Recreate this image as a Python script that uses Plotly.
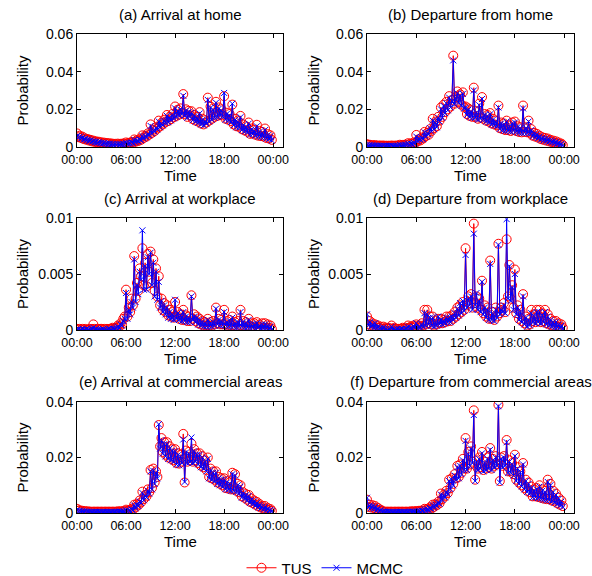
import plotly.graph_objects as go

# time of day in hours, 10-minute steps
steps_per_hour = 6
times = [i / steps_per_hour for i in range(24 * steps_per_hour)]

tick_vals = [0, 6, 12, 18, 24]
tick_text = ["00:00", "06:00", "12:00", "18:00", "00:00"]

titles = ["(a) Arrival at home", "(b) Departure from home",
          "(c) Arrival at workplace", "(d) Departure from workplace",
          "(e) Arrival at commercial areas", "(f) Departure from commercial areas"]

# (a) Arrival at home  (one row = one hour, 10-min values)
tus_a = [
    0.0072, 0.0052, 0.0060, 0.0048, 0.0055, 0.0042,
    0.0046, 0.0038, 0.0042, 0.0034, 0.0038, 0.0030,
    0.0034, 0.0027, 0.0030, 0.0024, 0.0028, 0.0022,
    0.0025, 0.0020, 0.0023, 0.0018, 0.0021, 0.0017,
    0.0020, 0.0015, 0.0018, 0.0014, 0.0017, 0.0013,
    0.0018, 0.0014, 0.0017, 0.0015, 0.0019, 0.0016,
    0.0024, 0.0018, 0.0022, 0.0020, 0.0026, 0.0023,
    0.0040, 0.0028, 0.0036, 0.0032, 0.0042, 0.0038,
    0.0062, 0.0048, 0.0060, 0.0055, 0.0072, 0.0066,
    0.0120, 0.0075, 0.0092, 0.0085, 0.0105, 0.0098,
    0.0140, 0.0110, 0.0128, 0.0120, 0.0145, 0.0132,
    0.0170, 0.0138, 0.0160, 0.0148, 0.0175, 0.0158,
    0.0215, 0.0165, 0.0198, 0.0172, 0.0205, 0.0180,
    0.0281, 0.0175, 0.0200, 0.0160, 0.0192, 0.0168,
    0.0190, 0.0148, 0.0170, 0.0140, 0.0160, 0.0135,
    0.0185, 0.0125, 0.0150, 0.0120, 0.0142, 0.0130,
    0.0262, 0.0140, 0.0215, 0.0150, 0.0205, 0.0160,
    0.0240, 0.0165, 0.0210, 0.0172, 0.0200, 0.0168,
    0.0270, 0.0150, 0.0182, 0.0145, 0.0175, 0.0138,
    0.0225, 0.0120, 0.0150, 0.0110, 0.0140, 0.0108,
    0.0165, 0.0095, 0.0120, 0.0088, 0.0110, 0.0082,
    0.0130, 0.0070, 0.0098, 0.0072, 0.0090, 0.0065,
    0.0118, 0.0060, 0.0085, 0.0058, 0.0080, 0.0055,
    0.0098, 0.0048, 0.0068, 0.0045, 0.0062, 0.0038]
mcmc_a = [
    0.0058, 0.0050, 0.0055, 0.0046, 0.0050, 0.0040,
    0.0043, 0.0036, 0.0040, 0.0032, 0.0035, 0.0028,
    0.0031, 0.0025, 0.0028, 0.0022, 0.0026, 0.0020,
    0.0023, 0.0018, 0.0021, 0.0016, 0.0019, 0.0015,
    0.0018, 0.0013, 0.0016, 0.0012, 0.0015, 0.0011,
    0.0016, 0.0012, 0.0015, 0.0013, 0.0017, 0.0014,
    0.0022, 0.0016, 0.0020, 0.0019, 0.0024, 0.0021,
    0.0037, 0.0026, 0.0034, 0.0030, 0.0040, 0.0036,
    0.0058, 0.0045, 0.0057, 0.0052, 0.0068, 0.0062,
    0.0112, 0.0072, 0.0088, 0.0082, 0.0100, 0.0094,
    0.0135, 0.0105, 0.0124, 0.0116, 0.0140, 0.0128,
    0.0165, 0.0132, 0.0155, 0.0142, 0.0170, 0.0152,
    0.0205, 0.0160, 0.0190, 0.0168, 0.0198, 0.0174,
    0.0272, 0.0168, 0.0193, 0.0155, 0.0186, 0.0162,
    0.0182, 0.0142, 0.0163, 0.0135, 0.0154, 0.0128,
    0.0178, 0.0120, 0.0144, 0.0115, 0.0136, 0.0125,
    0.0250, 0.0135, 0.0208, 0.0145, 0.0198, 0.0155,
    0.0235, 0.0160, 0.0203, 0.0166, 0.0194, 0.0162,
    0.0287, 0.0145, 0.0176, 0.0140, 0.0168, 0.0132,
    0.0230, 0.0115, 0.0144, 0.0105, 0.0134, 0.0103,
    0.0158, 0.0090, 0.0115, 0.0084, 0.0105, 0.0078,
    0.0124, 0.0066, 0.0093, 0.0068, 0.0085, 0.0061,
    0.0110, 0.0056, 0.0080, 0.0054, 0.0075, 0.0051,
    0.0090, 0.0045, 0.0063, 0.0042, 0.0057, 0.0035]

# (b) Departure from home
tus_b = [
    0.0015, 0.0010, 0.0012, 0.0008, 0.0010, 0.0007,
    0.0010, 0.0006, 0.0008, 0.0006, 0.0008, 0.0005,
    0.0008, 0.0005, 0.0007, 0.0005, 0.0007, 0.0005,
    0.0008, 0.0006, 0.0007, 0.0006, 0.0008, 0.0006,
    0.0012, 0.0008, 0.0011, 0.0009, 0.0013, 0.0010,
    0.0020, 0.0014, 0.0019, 0.0016, 0.0024, 0.0020,
    0.0064, 0.0030, 0.0042, 0.0035, 0.0050, 0.0045,
    0.0080, 0.0058, 0.0075, 0.0065, 0.0095, 0.0085,
    0.0150, 0.0100, 0.0135, 0.0110, 0.0160, 0.0140,
    0.0210, 0.0160, 0.0225, 0.0185, 0.0240, 0.0200,
    0.0270, 0.0215, 0.0250, 0.0485, 0.0230, 0.0265,
    0.0295, 0.0240, 0.0280, 0.0225, 0.0290, 0.0210,
    0.0215, 0.0175, 0.0205, 0.0165, 0.0195, 0.0160,
    0.0315, 0.0160, 0.0190, 0.0150, 0.0230, 0.0155,
    0.0265, 0.0150, 0.0175, 0.0140, 0.0170, 0.0135,
    0.0180, 0.0125, 0.0150, 0.0120, 0.0140, 0.0115,
    0.0220, 0.0100, 0.0130, 0.0095, 0.0125, 0.0090,
    0.0140, 0.0090, 0.0115, 0.0085, 0.0130, 0.0090,
    0.0135, 0.0085, 0.0110, 0.0080, 0.0105, 0.0078,
    0.0220, 0.0080, 0.0105, 0.0078, 0.0140, 0.0075,
    0.0095, 0.0060, 0.0075, 0.0055, 0.0070, 0.0050,
    0.0060, 0.0042, 0.0052, 0.0038, 0.0048, 0.0034,
    0.0045, 0.0030, 0.0038, 0.0026, 0.0034, 0.0022,
    0.0030, 0.0018, 0.0024, 0.0014, 0.0018, 0.0010]
mcmc_b = [
    0.0012, 0.0008, 0.0010, 0.0007, 0.0009, 0.0006,
    0.0008, 0.0005, 0.0007, 0.0005, 0.0007, 0.0004,
    0.0007, 0.0004, 0.0006, 0.0004, 0.0006, 0.0004,
    0.0007, 0.0005, 0.0006, 0.0005, 0.0007, 0.0005,
    0.0011, 0.0007, 0.0010, 0.0008, 0.0012, 0.0009,
    0.0018, 0.0013, 0.0017, 0.0015, 0.0022, 0.0019,
    0.0055, 0.0032, 0.0045, 0.0038, 0.0048, 0.0042,
    0.0078, 0.0055, 0.0072, 0.0068, 0.0100, 0.0082,
    0.0140, 0.0095, 0.0130, 0.0105, 0.0155, 0.0135,
    0.0200, 0.0155, 0.0218, 0.0180, 0.0232, 0.0195,
    0.0262, 0.0210, 0.0245, 0.0460, 0.0225, 0.0258,
    0.0285, 0.0235, 0.0272, 0.0218, 0.0282, 0.0205,
    0.0208, 0.0170, 0.0198, 0.0160, 0.0188, 0.0155,
    0.0300, 0.0155, 0.0184, 0.0145, 0.0222, 0.0150,
    0.0255, 0.0145, 0.0170, 0.0135, 0.0165, 0.0130,
    0.0174, 0.0120, 0.0145, 0.0115, 0.0135, 0.0110,
    0.0210, 0.0096, 0.0125, 0.0090, 0.0120, 0.0086,
    0.0135, 0.0086, 0.0110, 0.0082, 0.0125, 0.0086,
    0.0130, 0.0082, 0.0106, 0.0076, 0.0100, 0.0074,
    0.0205, 0.0076, 0.0100, 0.0074, 0.0135, 0.0071,
    0.0090, 0.0057, 0.0071, 0.0052, 0.0066, 0.0047,
    0.0056, 0.0040, 0.0049, 0.0035, 0.0045, 0.0031,
    0.0042, 0.0028, 0.0035, 0.0024, 0.0031, 0.0020,
    0.0027, 0.0016, 0.0021, 0.0012, 0.0016, 0.0008]

# (c) Arrival at workplace
tus_c = [
    0.0001, 0.0000, 0.0001, 0.0000, 0.0001, 0.0000,
    0.0001, 0.0000, 0.0000, 0.0001, 0.0000, 0.0001,
    0.0005, 0.0001, 0.0000, 0.0001, 0.0000, 0.0001,
    0.0001, 0.0000, 0.0001, 0.0000, 0.0001, 0.0000,
    0.0001, 0.0001, 0.0002, 0.0001, 0.0002, 0.0002,
    0.0004, 0.0003, 0.0006, 0.0005, 0.0010, 0.0012,
    0.0036, 0.0012, 0.0020, 0.0016, 0.0028, 0.0022,
    0.0066, 0.0028, 0.0042, 0.0035, 0.0055, 0.0048,
    0.0073, 0.0040, 0.0060, 0.0039, 0.0068, 0.0052,
    0.0070, 0.0042, 0.0063, 0.0035, 0.0055, 0.0030,
    0.0048, 0.0022, 0.0028, 0.0018, 0.0024, 0.0016,
    0.0022, 0.0013, 0.0018, 0.0012, 0.0016, 0.0011,
    0.0025, 0.0012, 0.0016, 0.0010, 0.0014, 0.0009,
    0.0018, 0.0009, 0.0013, 0.0008, 0.0012, 0.0008,
    0.0031, 0.0010, 0.0014, 0.0008, 0.0012, 0.0006,
    0.0010, 0.0005, 0.0008, 0.0004, 0.0007, 0.0004,
    0.0010, 0.0004, 0.0007, 0.0004, 0.0008, 0.0005,
    0.0020, 0.0006, 0.0010, 0.0005, 0.0009, 0.0005,
    0.0018, 0.0005, 0.0008, 0.0004, 0.0009, 0.0004,
    0.0012, 0.0004, 0.0007, 0.0003, 0.0008, 0.0004,
    0.0018, 0.0004, 0.0008, 0.0003, 0.0007, 0.0003,
    0.0010, 0.0003, 0.0006, 0.0003, 0.0006, 0.0002,
    0.0007, 0.0003, 0.0005, 0.0002, 0.0006, 0.0002,
    0.0006, 0.0002, 0.0005, 0.0002, 0.0004, 0.0001]
mcmc_c = [
    0.0000, 0.0001, 0.0000, 0.0000, 0.0001, 0.0000,
    0.0000, 0.0001, 0.0000, 0.0000, 0.0000, 0.0001,
    0.0002, 0.0000, 0.0001, 0.0000, 0.0000, 0.0000,
    0.0000, 0.0001, 0.0000, 0.0000, 0.0000, 0.0001,
    0.0001, 0.0000, 0.0001, 0.0001, 0.0001, 0.0002,
    0.0003, 0.0002, 0.0005, 0.0004, 0.0008, 0.0010,
    0.0033, 0.0010, 0.0018, 0.0014, 0.0025, 0.0020,
    0.0063, 0.0025, 0.0040, 0.0032, 0.0052, 0.0045,
    0.0089, 0.0036, 0.0057, 0.0036, 0.0065, 0.0050,
    0.0069, 0.0040, 0.0060, 0.0030, 0.0052, 0.0027,
    0.0043, 0.0020, 0.0026, 0.0016, 0.0022, 0.0014,
    0.0020, 0.0011, 0.0016, 0.0010, 0.0014, 0.0009,
    0.0027, 0.0010, 0.0015, 0.0009, 0.0013, 0.0008,
    0.0016, 0.0008, 0.0012, 0.0007, 0.0011, 0.0007,
    0.0030, 0.0009, 0.0012, 0.0007, 0.0011, 0.0005,
    0.0009, 0.0004, 0.0007, 0.0003, 0.0006, 0.0003,
    0.0009, 0.0003, 0.0006, 0.0003, 0.0007, 0.0004,
    0.0019, 0.0005, 0.0009, 0.0004, 0.0008, 0.0004,
    0.0016, 0.0004, 0.0007, 0.0003, 0.0008, 0.0003,
    0.0011, 0.0003, 0.0006, 0.0002, 0.0007, 0.0003,
    0.0016, 0.0003, 0.0007, 0.0002, 0.0006, 0.0002,
    0.0009, 0.0002, 0.0005, 0.0002, 0.0005, 0.0001,
    0.0006, 0.0002, 0.0004, 0.0001, 0.0005, 0.0001,
    0.0005, 0.0001, 0.0004, 0.0001, 0.0003, 0.0000]

# (d) Departure from workplace
tus_d = [
    0.0012, 0.0005, 0.0008, 0.0004, 0.0006, 0.0003,
    0.0005, 0.0002, 0.0004, 0.0002, 0.0003, 0.0001,
    0.0003, 0.0001, 0.0002, 0.0001, 0.0002, 0.0001,
    0.0004, 0.0001, 0.0002, 0.0001, 0.0001, 0.0001,
    0.0001, 0.0001, 0.0002, 0.0001, 0.0002, 0.0001,
    0.0004, 0.0002, 0.0003, 0.0002, 0.0004, 0.0003,
    0.0005, 0.0002, 0.0004, 0.0003, 0.0006, 0.0004,
    0.0018, 0.0005, 0.0018, 0.0006, 0.0012, 0.0005,
    0.0012, 0.0004, 0.0008, 0.0005, 0.0010, 0.0006,
    0.0010, 0.0006, 0.0009, 0.0007, 0.0012, 0.0008,
    0.0012, 0.0008, 0.0013, 0.0010, 0.0016, 0.0012,
    0.0020, 0.0014, 0.0022, 0.0016, 0.0025, 0.0018,
    0.0073, 0.0022, 0.0030, 0.0024, 0.0032, 0.0020,
    0.0095, 0.0024, 0.0030, 0.0020, 0.0028, 0.0018,
    0.0044, 0.0015, 0.0022, 0.0012, 0.0020, 0.0010,
    0.0062, 0.0010, 0.0016, 0.0009, 0.0020, 0.0012,
    0.0077, 0.0015, 0.0020, 0.0018, 0.0024, 0.0016,
    0.0081, 0.0030, 0.0058, 0.0028, 0.0040, 0.0020,
    0.0054, 0.0015, 0.0022, 0.0010, 0.0018, 0.0008,
    0.0032, 0.0006, 0.0012, 0.0004, 0.0010, 0.0005,
    0.0018, 0.0008, 0.0014, 0.0007, 0.0018, 0.0008,
    0.0018, 0.0007, 0.0015, 0.0008, 0.0018, 0.0006,
    0.0014, 0.0005, 0.0010, 0.0004, 0.0008, 0.0003,
    0.0008, 0.0003, 0.0006, 0.0003, 0.0005, 0.0002]
mcmc_d = [
    0.0014, 0.0004, 0.0007, 0.0003, 0.0005, 0.0002,
    0.0006, 0.0001, 0.0003, 0.0001, 0.0002, 0.0001,
    0.0002, 0.0000, 0.0001, 0.0000, 0.0001, 0.0000,
    0.0003, 0.0000, 0.0001, 0.0000, 0.0001, 0.0000,
    0.0000, 0.0001, 0.0001, 0.0000, 0.0001, 0.0001,
    0.0003, 0.0001, 0.0002, 0.0001, 0.0003, 0.0002,
    0.0006, 0.0001, 0.0003, 0.0002, 0.0005, 0.0003,
    0.0015, 0.0004, 0.0014, 0.0005, 0.0011, 0.0004,
    0.0011, 0.0003, 0.0007, 0.0004, 0.0012, 0.0005,
    0.0009, 0.0005, 0.0008, 0.0006, 0.0011, 0.0007,
    0.0011, 0.0007, 0.0012, 0.0009, 0.0015, 0.0011,
    0.0019, 0.0013, 0.0024, 0.0015, 0.0026, 0.0017,
    0.0067, 0.0020, 0.0028, 0.0022, 0.0030, 0.0018,
    0.0086, 0.0022, 0.0033, 0.0018, 0.0026, 0.0016,
    0.0043, 0.0014, 0.0020, 0.0011, 0.0018, 0.0009,
    0.0059, 0.0009, 0.0014, 0.0008, 0.0018, 0.0011,
    0.0076, 0.0014, 0.0018, 0.0016, 0.0022, 0.0015,
    0.0099, 0.0028, 0.0057, 0.0026, 0.0038, 0.0018,
    0.0050, 0.0014, 0.0020, 0.0009, 0.0016, 0.0007,
    0.0030, 0.0005, 0.0011, 0.0003, 0.0009, 0.0004,
    0.0015, 0.0007, 0.0012, 0.0006, 0.0016, 0.0007,
    0.0016, 0.0006, 0.0013, 0.0007, 0.0016, 0.0005,
    0.0012, 0.0004, 0.0009, 0.0003, 0.0007, 0.0002,
    0.0007, 0.0002, 0.0005, 0.0002, 0.0004, 0.0001]

# (e) Arrival at commercial areas
tus_e = [
    0.0015, 0.0008, 0.0010, 0.0006, 0.0008, 0.0005,
    0.0007, 0.0004, 0.0006, 0.0004, 0.0005, 0.0004,
    0.0005, 0.0004, 0.0005, 0.0004, 0.0005, 0.0004,
    0.0005, 0.0004, 0.0005, 0.0004, 0.0005, 0.0004,
    0.0005, 0.0004, 0.0005, 0.0004, 0.0005, 0.0004,
    0.0006, 0.0005, 0.0006, 0.0005, 0.0007, 0.0006,
    0.0012, 0.0007, 0.0010, 0.0008, 0.0015, 0.0012,
    0.0030, 0.0020, 0.0032, 0.0028, 0.0045, 0.0038,
    0.0077, 0.0050, 0.0065, 0.0060, 0.0085, 0.0075,
    0.0155, 0.0090, 0.0160, 0.0110, 0.0150, 0.0130,
    0.0317, 0.0240, 0.0270, 0.0220, 0.0255, 0.0210,
    0.0255, 0.0200, 0.0240, 0.0195, 0.0230, 0.0190,
    0.0230, 0.0180, 0.0215, 0.0178, 0.0210, 0.0185,
    0.0285, 0.0110, 0.0225, 0.0185, 0.0220, 0.0190,
    0.0250, 0.0185, 0.0230, 0.0190, 0.0215, 0.0180,
    0.0215, 0.0170, 0.0205, 0.0165, 0.0190, 0.0155,
    0.0200, 0.0130, 0.0160, 0.0125, 0.0150, 0.0120,
    0.0150, 0.0110, 0.0130, 0.0105, 0.0125, 0.0100,
    0.0125, 0.0090, 0.0115, 0.0088, 0.0110, 0.0085,
    0.0145, 0.0085, 0.0140, 0.0080, 0.0105, 0.0075,
    0.0100, 0.0060, 0.0075, 0.0055, 0.0068, 0.0048,
    0.0065, 0.0040, 0.0052, 0.0036, 0.0045, 0.0030,
    0.0040, 0.0024, 0.0032, 0.0020, 0.0026, 0.0016,
    0.0025, 0.0012, 0.0018, 0.0010, 0.0014, 0.0008]
mcmc_e = [
    0.0010, 0.0006, 0.0008, 0.0005, 0.0006, 0.0004,
    0.0006, 0.0003, 0.0005, 0.0003, 0.0004, 0.0003,
    0.0004, 0.0003, 0.0004, 0.0003, 0.0004, 0.0003,
    0.0004, 0.0003, 0.0004, 0.0003, 0.0004, 0.0003,
    0.0004, 0.0003, 0.0004, 0.0003, 0.0004, 0.0003,
    0.0005, 0.0004, 0.0005, 0.0004, 0.0006, 0.0005,
    0.0010, 0.0006, 0.0009, 0.0007, 0.0013, 0.0010,
    0.0027, 0.0018, 0.0030, 0.0025, 0.0042, 0.0036,
    0.0072, 0.0046, 0.0062, 0.0056, 0.0080, 0.0070,
    0.0150, 0.0085, 0.0152, 0.0105, 0.0145, 0.0125,
    0.0320, 0.0232, 0.0262, 0.0214, 0.0248, 0.0204,
    0.0248, 0.0195, 0.0233, 0.0190, 0.0224, 0.0185,
    0.0222, 0.0175, 0.0208, 0.0172, 0.0204, 0.0180,
    0.0265, 0.0112, 0.0218, 0.0180, 0.0214, 0.0184,
    0.0272, 0.0180, 0.0222, 0.0185, 0.0210, 0.0175,
    0.0210, 0.0165, 0.0200, 0.0160, 0.0185, 0.0150,
    0.0195, 0.0125, 0.0155, 0.0120, 0.0145, 0.0115,
    0.0145, 0.0105, 0.0125, 0.0100, 0.0120, 0.0095,
    0.0120, 0.0086, 0.0110, 0.0084, 0.0106, 0.0080,
    0.0140, 0.0080, 0.0135, 0.0076, 0.0100, 0.0070,
    0.0095, 0.0056, 0.0071, 0.0051, 0.0064, 0.0045,
    0.0061, 0.0037, 0.0048, 0.0033, 0.0042, 0.0027,
    0.0036, 0.0021, 0.0029, 0.0018, 0.0023, 0.0014,
    0.0022, 0.0010, 0.0015, 0.0008, 0.0011, 0.0006]

# (f) Departure from commercial areas
tus_f = [
    0.0048, 0.0022, 0.0030, 0.0020, 0.0028, 0.0018,
    0.0025, 0.0012, 0.0018, 0.0009, 0.0012, 0.0007,
    0.0006, 0.0004, 0.0005, 0.0004, 0.0005, 0.0004,
    0.0005, 0.0004, 0.0005, 0.0004, 0.0005, 0.0004,
    0.0005, 0.0004, 0.0005, 0.0004, 0.0005, 0.0004,
    0.0005, 0.0004, 0.0006, 0.0005, 0.0006, 0.0005,
    0.0007, 0.0005, 0.0008, 0.0006, 0.0009, 0.0008,
    0.0015, 0.0010, 0.0015, 0.0012, 0.0020, 0.0016,
    0.0030, 0.0022, 0.0032, 0.0028, 0.0040, 0.0035,
    0.0070, 0.0050, 0.0065, 0.0060, 0.0080, 0.0072,
    0.0120, 0.0090, 0.0125, 0.0105, 0.0140, 0.0125,
    0.0170, 0.0130, 0.0175, 0.0145, 0.0195, 0.0160,
    0.0270, 0.0160, 0.0220, 0.0175, 0.0240, 0.0185,
    0.0370, 0.0120, 0.0190, 0.0160, 0.0200, 0.0165,
    0.0220, 0.0155, 0.0185, 0.0160, 0.0200, 0.0165,
    0.0234, 0.0160, 0.0195, 0.0170, 0.0205, 0.0175,
    0.0390, 0.0115, 0.0200, 0.0170, 0.0205, 0.0175,
    0.0263, 0.0150, 0.0190, 0.0150, 0.0180, 0.0140,
    0.0210, 0.0120, 0.0165, 0.0110, 0.0150, 0.0100,
    0.0180, 0.0090, 0.0120, 0.0080, 0.0110, 0.0075,
    0.0095, 0.0060, 0.0085, 0.0060, 0.0090, 0.0058,
    0.0100, 0.0055, 0.0085, 0.0052, 0.0080, 0.0050,
    0.0120, 0.0050, 0.0105, 0.0045, 0.0080, 0.0042,
    0.0070, 0.0035, 0.0055, 0.0030, 0.0045, 0.0025]
mcmc_f = [
    0.0055, 0.0020, 0.0027, 0.0018, 0.0025, 0.0016,
    0.0022, 0.0010, 0.0016, 0.0007, 0.0010, 0.0005,
    0.0005, 0.0003, 0.0004, 0.0003, 0.0004, 0.0003,
    0.0004, 0.0003, 0.0004, 0.0003, 0.0004, 0.0003,
    0.0004, 0.0003, 0.0004, 0.0003, 0.0004, 0.0003,
    0.0004, 0.0003, 0.0005, 0.0004, 0.0005, 0.0004,
    0.0006, 0.0004, 0.0007, 0.0005, 0.0008, 0.0007,
    0.0013, 0.0009, 0.0013, 0.0011, 0.0018, 0.0015,
    0.0028, 0.0020, 0.0030, 0.0026, 0.0037, 0.0033,
    0.0066, 0.0047, 0.0062, 0.0056, 0.0076, 0.0068,
    0.0115, 0.0086, 0.0120, 0.0100, 0.0135, 0.0120,
    0.0165, 0.0125, 0.0170, 0.0140, 0.0190, 0.0155,
    0.0260, 0.0155, 0.0212, 0.0170, 0.0232, 0.0180,
    0.0353, 0.0115, 0.0184, 0.0155, 0.0194, 0.0160,
    0.0215, 0.0150, 0.0180, 0.0155, 0.0195, 0.0160,
    0.0228, 0.0155, 0.0190, 0.0165, 0.0200, 0.0170,
    0.0385, 0.0110, 0.0195, 0.0165, 0.0200, 0.0170,
    0.0255, 0.0145, 0.0185, 0.0145, 0.0175, 0.0135,
    0.0205, 0.0115, 0.0160, 0.0105, 0.0145, 0.0096,
    0.0175, 0.0085, 0.0115, 0.0076, 0.0105, 0.0071,
    0.0090, 0.0056, 0.0080, 0.0056, 0.0085, 0.0054,
    0.0095, 0.0052, 0.0080, 0.0048, 0.0075, 0.0046,
    0.0112, 0.0046, 0.0100, 0.0042, 0.0075, 0.0038,
    0.0065, 0.0032, 0.0051, 0.0027, 0.0041, 0.0022]

tus_all = [tus_a, tus_b, tus_c, tus_d, tus_e, tus_f]
mcmc_all = [mcmc_a, mcmc_b, mcmc_c, mcmc_d, mcmc_e, mcmc_f]

y_ranges = [[0, 0.06], [0, 0.06], [0, 0.01], [0, 0.01], [0, 0.04], [0, 0.04]]
y_ticks = [[0, 0.02, 0.04, 0.06], [0, 0.02, 0.04, 0.06],
           [0, 0.005, 0.01], [0, 0.005, 0.01],
           [0, 0.02, 0.04], [0, 0.02, 0.04]]
y_ticktext = [["0", "0.02", "0.04", "0.06"], ["0", "0.02", "0.04", "0.06"],
              ["0", "0.005", "0.01"], ["0", "0.005", "0.01"],
              ["0", "0.02", "0.04"], ["0", "0.02", "0.04"]]

W, H = 592, 576
col_px = [(77, 283), (367, 574)]
row_px = [(34, 147), (218, 330), (402, 513)]
title_y_px = [15, 198, 381]
time_y_px = [175, 358, 541]
ylab_x_px = [22, 313]

FONT = "Arial, Liberation Sans, Helvetica, sans-serif"

fig = go.Figure()
annotations = []
layout_axes = {}

for k in range(6):
    r, c = divmod(k, 2)
    n = k + 1
    xa = "x" if n == 1 else f"x{n}"
    ya = "y" if n == 1 else f"y{n}"
    fig.add_trace(go.Scatter(
        x=times, y=tus_all[k], mode="lines+markers", name="TUS",
        line=dict(color="#ff0000", width=1),
        marker=dict(symbol="circle-open", size=9, color="#ff0000",
                    line=dict(width=1, color="#ff0000")),
        xaxis=xa, yaxis=ya, showlegend=(k == 0)))
    fig.add_trace(go.Scatter(
        x=times, y=mcmc_all[k], mode="lines+markers", name="MCMC",
        line=dict(color="#0000ff", width=1),
        marker=dict(symbol="x-thin-open", size=6, color="#0000ff",
                    line=dict(width=1, color="#0000ff")),
        xaxis=xa, yaxis=ya, showlegend=(k == 0)))

    x0, x1 = col_px[c]
    y0, y1 = row_px[r]
    xdom = [x0 / W, x1 / W]
    ydom = [1 - y1 / H, 1 - y0 / H]
    xkey = "xaxis" if n == 1 else f"xaxis{n}"
    ykey = "yaxis" if n == 1 else f"yaxis{n}"
    layout_axes[xkey] = dict(
        domain=xdom, anchor=ya, range=[0, 25.2], automargin=False,
        tickvals=tick_vals, ticktext=tick_text, ticklabelstandoff=1,
        ticks="inside", ticklen=4, tickwidth=1, tickcolor="black",
        showline=True, linecolor="black", linewidth=1, mirror="ticks",
        showgrid=False, zeroline=False,
        tickfont=dict(family=FONT, size=12.5, color="black"))
    layout_axes[ykey] = dict(
        domain=ydom, anchor=xa, range=y_ranges[k], automargin=False,
        tickvals=y_ticks[k], ticktext=y_ticktext[k],
        ticks="inside", ticklen=4, tickwidth=1, tickcolor="black",
        showline=True, linecolor="black", linewidth=1, mirror="ticks",
        showgrid=False, zeroline=False,
        tickfont=dict(family=FONT, size=14, color="black"))

    cx = (x0 + x1) / 2 / W
    annotations.append(dict(text=titles[k], x=cx, y=1 - title_y_px[r] / H,
                            xref="paper", yref="paper", showarrow=False,
                            xanchor="center", yanchor="middle",
                            font=dict(family=FONT, size=15, color="black")))
    annotations.append(dict(text="Time", x=cx, y=1 - time_y_px[r] / H,
                            xref="paper", yref="paper", showarrow=False,
                            xanchor="center", yanchor="middle",
                            font=dict(family=FONT, size=15, color="black")))
    annotations.append(dict(text="Probability", x=ylab_x_px[c] / W,
                            y=1 - (y0 + y1) / 2 / H,
                            xref="paper", yref="paper", showarrow=False,
                            textangle=-90, xanchor="center", yanchor="middle",
                            font=dict(family=FONT, size=15, color="black")))

fig.update_layout(
    template="none",
    width=W, height=H, autosize=False,
    margin=dict(l=0, r=0, t=0, b=0, pad=0, autoexpand=False),
    paper_bgcolor="white", plot_bgcolor="white",
    font=dict(family=FONT, size=15, color="black"),
    annotations=annotations,
    legend=dict(orientation="h", x=325 / W, xanchor="center",
                y=1 - 568 / H, yanchor="middle", tracegroupgap=0,
                font=dict(family=FONT, size=15, color="black"),
                bgcolor="rgba(0,0,0,0)", borderwidth=0),
    **layout_axes)

fig.write_html("out.html")
